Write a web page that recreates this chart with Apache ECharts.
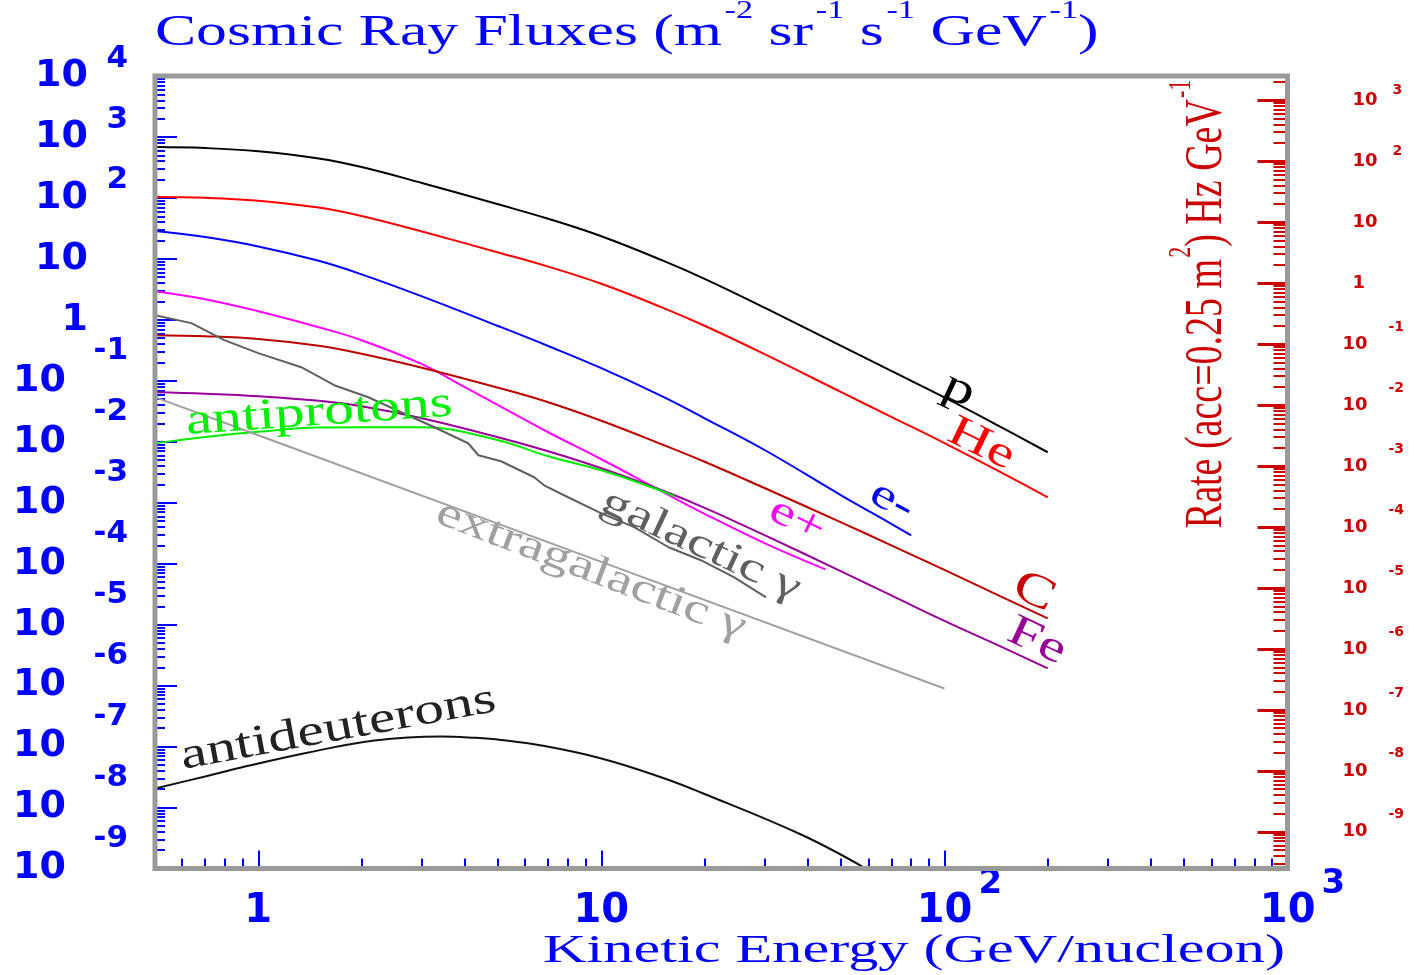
<!DOCTYPE html>
<html><head><meta charset="utf-8">
<script src="https://cdn.jsdelivr.net/npm/echarts@6.0.0/dist/echarts.min.js"></script>
<style>html,body{margin:0;padding:0;background:#fff}#c{width:1414px;height:975px}</style>
</head><body><div id="c"></div>
<script>
// ---- data (E in GeV/nucleon, flux in m^-2 sr^-1 s^-1 GeV^-1) ----
const nucleusE = [0.5, 0.7, 1, 1.5, 2, 3, 5, 7, 10, 15, 20, 30, 50, 70, 100, 150, 200];
const protonFlux = [683, 658, 583, 444, 320.7, 175.9, 78.6, 45.5, 23.5, 9.54, 4.71, 1.573, 0.374, 0.1454, 0.0534, 0.01612, 0.00673];
const heliumFlux = [103.2, 100.5, 90.1, 69.4, 50.5, 28.1, 12.76, 7.46, 3.90, 1.602, 0.7995, 0.2713, 0.0652, 0.02566, 0.00953, 0.00292, 0.001228];
const carbonFlux = [0.5605, 0.5395, 0.4873, 0.3769, 0.2786, 0.164, 0.077, 0.04455, 0.02214, 0.0091, 0.0047, 0.001726, 4.77e-4, 2.0e-4, 7.93e-5, 2.7e-5, 1.268e-5];
const ironFlux = [0.065, 0.0614, 0.0559, 0.0471, 0.0383, 0.0243, 0.01187, 0.00699, 0.003675, 0.0016, 8.26e-4, 2.92e-4, 7.49e-5, 3.02e-5, 1.153e-5, 4.08e-6, 1.915e-6];
const electronE = [0.5, 0.7, 1, 1.5, 2, 3, 5, 7, 10, 15, 20, 30, 50, 70, 80];
const electronFlux = [28.6, 22.8, 16.0, 9.29, 5.58, 2.43, 0.793, 0.3725, 0.161, 0.0559, 0.0243, 0.00726, 0.001324, 4.51e-4, 2.92e-4];
const positronE = [0.5, 0.7, 1, 1.5, 2, 3, 4, 5, 7, 10, 15, 20, 30, 45];
const positronFlux = [2.957, 2.185, 1.388, 0.758, 0.4638, 0.1873, 0.0785, 0.03976, 0.01433, 0.005165, 0.00154, 6.58e-4, 2.16e-4, 8.08e-5];
const antiprotonE = [0.5, 0.7, 1, 1.5, 2, 3, 5, 7, 10, 14, 16.3];
const antiprotonFlux = [0.00946, 0.012, 0.01456, 0.0171, 0.0173, 0.0173, 0.0106, 0.00578, 0.0034, 0.00179, 0.00128];
const galacticE = [0.5, 0.638, 0.796, 1.0, 1.334, 1.665, 2.092, 2.61, 3.26, 4.09, 4.38, 5.1, 6.37, 6.81, 8.0, 10, 12.5, 15.7, 19.5, 24.4, 30.2];
const galacticFlux = [1.19, 0.883, 0.464, 0.284, 0.167, 0.0847, 0.0538, 0.0305, 0.0173, 0.00946, 0.00601, 0.00479, 0.00262, 0.00193, 0.00123, 6.71e-4, 3.95e-4, 1.86e-4, 1.14e-4, 5.97e-5, 2.8e-5];
const extragalacticE = [0.5, 1, 10, 100];
const extragalacticFlux = [0.054, 0.0128, 1.07e-4, 8.97e-7];
const antideuteronE = [0.5, 0.7, 0.892, 1.4, 2.18, 3.41, 4.3, 5.1, 6.68, 10, 15, 19.5, 38.2, 59];
const antideuteronFlux = [2.05e-8, 3.24e-8, 4.54e-8, 8.0e-8, 1.26e-7, 1.47e-7, 1.39e-7, 1.285e-7, 1.043e-7, 6.38e-8, 3.11e-8, 1.766e-8, 3.61e-9, 1e-9];

// ---- axes ----
const xMin = 0.5, xMax = 1000;
const fluxMin = 0.99999e-9, fluxMax = 1e4;
const acceptance = 0.25;               // rate = flux * 0.25 m^2
const rateMin = fluxMin * acceptance, rateMax = fluxMax * acceptance;
const xLabelValues = [1, 10, 100, 1000];
const fluxLabelValues = [1e-9, 1e-8, 1e-7, 1e-6, 1e-5, 1e-4, 1e-3, 1e-2, 1e-1, 1, 10, 100, 1000, 1e4];
const rateLabelValues = [1e-9, 1e-8, 1e-7, 1e-6, 1e-5, 1e-4, 1e-3, 1e-2, 1e-1, 1, 10, 100, 1000];

function minorTicks(e0, e1, lo, hi) {
  const out = [];
  for (let e = e0; e <= e1; e++) for (let k = 2; k <= 9; k++) {
    const v = +(k * Math.pow(10, e)).toPrecision(3);
    if (v > lo && v < hi) out.push(v);
  }
  return out;
}
const xMinor = minorTicks(-1, 2, xMin, xMax);
const fluxMinor = minorTicks(-9, 3, fluxMin, fluxMax);
const rateMinor = minorTicks(-10, 3, rateMin, rateMax);

// ---- curve annotations (anchored in data coordinates) ----
const annotations = [
  {text: 'p', x: 110.3, y: 0.0701, rot: -25, color: '#000000', size: 46},
  {text: 'He', x: 127.9, y: 0.0091, rot: -26, color: '#ff0000', size: 44},
  {text: 'e-', x: 70.3, y: 0.00106, rot: -28, color: '#0000ff', size: 42},
  {text: 'e+', x: 37.2, y: 5.15e-4, rot: -26, color: '#ff00ff', size: 42},
  {text: 'C', x: 182.4, y: 3.39e-5, rot: -25, color: '#cc0000', size: 46},
  {text: 'Fe', x: 186, y: 5.32e-6, rot: -25, color: '#990099', size: 44},
  {text: 'galactic γ', x: 19.5, y: 2.0e-4, rot: -25, color: '#606060', size: 42},
  {text: 'extragalactic γ', x: 9.34, y: 7.78e-5, rot: -21, color: '#a0a0a0', size: 42},
  {text: 'antiprotons', x: 1.506, y: 0.0294, rot: 4, color: '#00ee00', size: 44},
  {text: 'antideuterons', x: 1.71, y: 1.98e-7, rot: 10.5, color: '#222222', size: 44}
];

const BLUE = '#0000ff', RED = '#cc0000';
const zip = (a, b) => a.map((v, i) => [v, b[i]]);
const expOf = v => Math.round(Math.log10(v));

function lineSeries(name, e, f, color, smooth) {
  return {name, type: 'line', xAxisIndex: 0, yAxisIndex: 0, data: zip(e, f), showSymbol: false,
    symbol: 'none', smooth: smooth, lineStyle: {color, width: 2}, z: 3, silent: true};
}

const sansB = {fontFamily: 'DejaVu Sans', fontWeight: 'bold'};
const tok = (extra) => Object.assign({}, sansB, extra);
const hidden = {axisLine: {show: false}, splitLine: {show: false}};
const option = {
  animation: false,
  backgroundColor: '#ffffff',
  grid: {left: 155, top: 76, right: 126.5, bottom: 106.5, show: true, borderColor: '#999999', borderWidth: 5, backgroundColor: 'transparent', z: 4},
  xAxis: [
    Object.assign({type: 'log', logBase: 10, min: xMin, max: xMax, position: 'bottom',
      axisTick: {inside: true, length: 18, lineStyle: {color: BLUE, width: 2}, customValues: xLabelValues},
      axisLabel: {customValues: xLabelValues, margin: 43, verticalAlign: 'middle',
        formatter: v => { const n = expOf(v); return n === 0 ? '{bx|1}' : n === 1 ? '{bx|10}' : '{bxp|10}{ex|' + n + '}'; },
        rich: {
          bx: tok({fontSize: 40, color: BLUE, lineHeight: 42}),
          bxp: tok({fontSize: 40, color: BLUE, lineHeight: 42, padding: [0, 0, 0, 30]}),
          ex: tok({fontSize: 34, color: BLUE, lineHeight: 42, padding: [0, 0, 54, 6]})
        }}}, hidden),
    Object.assign({type: 'log', logBase: 10, min: xMin, max: xMax, position: 'bottom', axisLabel: {show: false},
      axisTick: {inside: true, length: 10, lineStyle: {color: BLUE, width: 2}, customValues: xMinor}}, hidden)
  ],
  yAxis: [
    // 0: flux axis — major ticks and the "10" / "1" mantissas
    Object.assign({type: 'log', logBase: 10, min: fluxMin, max: fluxMax, position: 'left',
      axisTick: {inside: true, length: 22, lineStyle: {color: BLUE, width: 2}, customValues: fluxLabelValues},
      axisLabel: {customValues: fluxLabelValues, margin: 27,
        formatter: v => { const n = expOf(v); return n === 0 ? '{m|1}' : n > 0 ? '{m|10}' : '{mn|10}'; },
        rich: {
          m: tok({fontSize: 38, color: BLUE, padding: [0, 40, 0, 0]}),
          mn: tok({fontSize: 38, color: BLUE, padding: [0, 62, 0, 0]})
        }}}, hidden),
    // 1: rate axis (right)
    Object.assign({type: 'log', logBase: 10, min: rateMin, max: rateMax, position: 'right',
      axisTick: {inside: true, length: 30, lineStyle: {color: RED, width: 3}, customValues: rateLabelValues},
      axisLabel: {customValues: rateLabelValues, margin: 55,
        formatter: v => { const n = expOf(v); return n === 0 ? '{br|1}' : n === 1 ? '{br|10}' : n > 1 ? '{br|10}{er|' + n + '}' : '{brn|10}{ern|' + n + '}'; },
        rich: {
          br: tok({fontSize: 18, color: RED, padding: [0, 0, 0, 10]}),
          brn: tok({fontSize: 18, color: RED}),
          er: tok({fontSize: 14, color: RED, padding: [0, 0, 20, 15]}),
          ern: tok({fontSize: 14, color: RED, padding: [0, 0, 34, 21]})
        }}}, hidden),
    // 2: flux minor ticks
    Object.assign({type: 'log', logBase: 10, min: fluxMin, max: fluxMax, position: 'left', axisLabel: {show: false},
      axisTick: {inside: true, length: 10, lineStyle: {color: BLUE, width: 2}, customValues: fluxMinor}}, hidden),
    // 3: rate minor ticks
    Object.assign({type: 'log', logBase: 10, min: rateMin, max: rateMax, position: 'right', axisLabel: {show: false},
      axisTick: {inside: true, length: 14, lineStyle: {color: RED, width: 2}, customValues: rateMinor}}, hidden),
    // 4: flux axis exponents (superscripts)
    Object.assign({type: 'log', logBase: 10, min: fluxMin, max: fluxMax, position: 'left', axisTick: {show: false},
      axisLabel: {customValues: fluxLabelValues, margin: 27,
        formatter: v => { const n = expOf(v); return n > 1 ? '{ep|' + n + '}' : n < 0 ? '{en|' + n + '}' : ''; },
        rich: {
          ep: tok({fontSize: 31, color: BLUE, padding: [0, 0, 35, 0]}),
          en: tok({fontSize: 31, color: BLUE, padding: [0, 0, 60, 0]})
        }}}, hidden)
  ],
  series: [
    lineSeries('p', nucleusE, protonFlux, '#000000', 0.4),
    lineSeries('He', nucleusE, heliumFlux, '#ff0000', 0.4),
    lineSeries('e-', electronE, electronFlux, '#0000ff', 0.4),
    lineSeries('e+', positronE, positronFlux, '#ff00ff', 0.4),
    lineSeries('C', nucleusE, carbonFlux, '#bb0000', 0.4),
    lineSeries('Fe', nucleusE, ironFlux, '#990099', 0.4),
    lineSeries('antiprotons', antiprotonE, antiprotonFlux, '#00ee00', 0.4),
    lineSeries('galactic gamma', galacticE, galacticFlux, '#606060', false),
    lineSeries('extragalactic gamma', extragalacticE, extragalacticFlux, '#a0a0a0', false),
    lineSeries('antideuterons', antideuteronE, antideuteronFlux, '#111111', 0.4)
  ]
};

const chart = echarts.init(document.getElementById('c'), null, {renderer: 'canvas'});
chart.setOption(option);

const serif = 'Liberation Serif';
const staticText = [
  {type: 'text', x: 155, y: 33, scaleX: 1.37, z: 10,
    style: {text: '{t|Cosmic Ray Fluxes (m}{s|-2}{t| sr}{s|-1}{t| s}{s|-1}{t| GeV}{s|-1}{t|)}',
      align: 'left', verticalAlign: 'middle',
      rich: {t: {fontSize: 45, fontFamily: serif, fill: BLUE, color: BLUE},
             s: {fontSize: 25, fontFamily: serif, fill: BLUE, color: BLUE, padding: [0, 0, 43, 2]}}}},
  {type: 'text', x: 543, y: 951, scaleX: 1.47, z: 10,
    style: {text: 'Kinetic Energy (GeV/nucleon)', fontSize: 41, fontFamily: serif, fill: BLUE, align: 'left', verticalAlign: 'middle'}},
  {type: 'text', x: 1207, y: 304, rotation: Math.PI / 2, scaleY: 1.4, z: 10,
    style: {text: '{t|Rate (acc=0.25 m}{s|2}{t|) Hz GeV}{s|-1}', align: 'center', verticalAlign: 'middle',
      rich: {t: {fontSize: 38, fontFamily: serif, fill: RED, color: RED},
             s: {fontSize: 22, fontFamily: serif, fill: RED, color: RED, padding: [0, 0, 36, 1]}}}}
];
const annoText = annotations.map(a => {
  const p = chart.convertToPixel({seriesIndex: 0}, [a.x, a.y]);
  return {type: 'text', x: p[0], y: p[1], rotation: a.rot * Math.PI / 180, scaleX: 1.35, z: 10,
    style: {text: a.text, fontSize: a.size, fontFamily: serif, fill: a.color, align: 'center', verticalAlign: 'middle'}};
});
chart.setOption({graphic: {elements: staticText.concat(annoText)}});
</script></body></html>
